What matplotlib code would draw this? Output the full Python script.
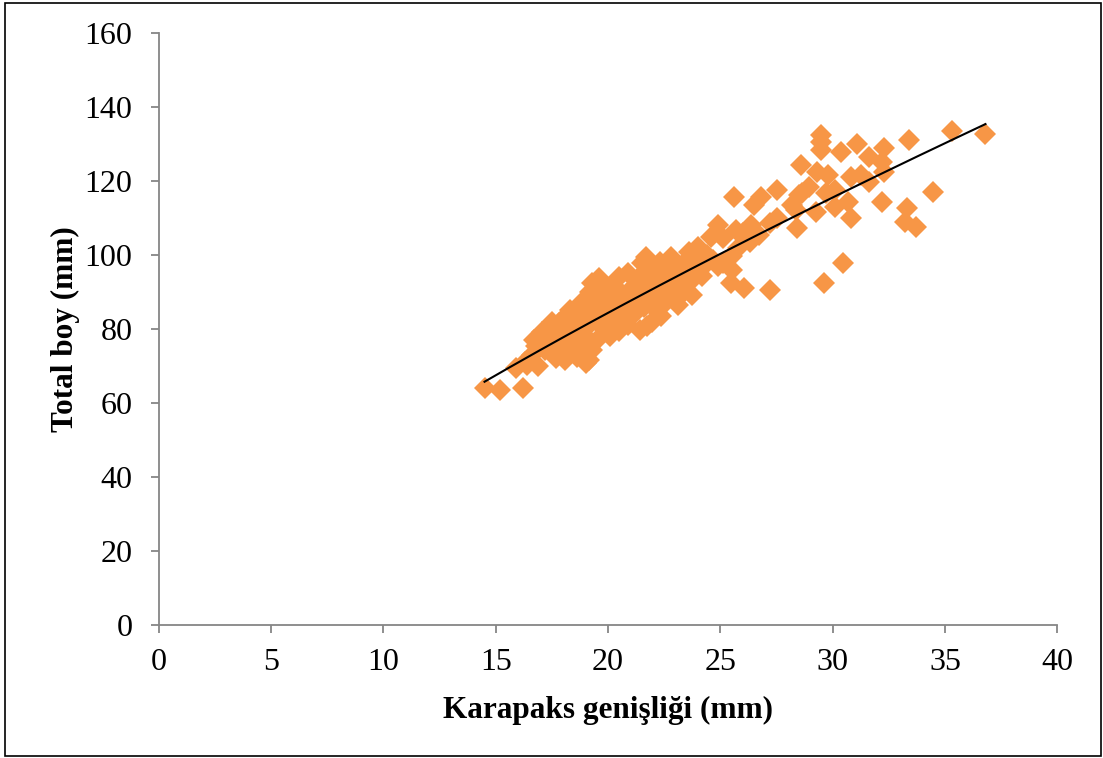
import numpy as np
import matplotlib
matplotlib.use('Agg')
import matplotlib.pyplot as plt
from matplotlib.patches import Rectangle

plt.rcParams['font.family'] = ['Liberation Serif', 'DejaVu Serif']

# karapaks genisligi (mm), okunan degerler
kg = [14.5, 15.2, 16.2, 15.9, 16.4, 16.3, 16.6, 16.8, 16.7, 16.9,
      17.05, 17.2, 17.4, 17.5, 17.7, 17.6, 17.8, 17.95, 18.1, 18.1,
      18.0, 18.3, 18.4, 18.35, 18.6, 18.7, 18.6, 18.8, 18.9, 18.7,
      19.0, 19.15, 19.0, 19.1, 19.2, 19.2, 19.3, 19.3, 19.4, 19.5,
      19.6, 19.6, 19.7, 19.8, 19.9, 20.0, 20.1, 20.2, 20.3, 20.4,
      20.5, 20.6, 20.6, 20.8, 20.9, 20.9, 21.0, 21.1, 21.2, 21.3,
      21.4, 21.4, 21.5, 21.6, 21.7, 21.75, 21.8, 21.9, 21.96, 22.0,
      22.1, 22.3, 22.35, 22.4, 22.5, 22.6, 22.8, 22.85, 22.9, 23.0,
      23.1, 23.2, 23.3, 23.5, 23.6, 23.6, 23.75, 23.8, 24.0, 24.05,
      24.2, 24.4, 24.6, 24.65, 24.9, 24.9, 25.1, 25.1, 25.45, 25.5,
      25.5, 25.6, 25.7, 25.8, 26.0, 26.2, 26.05, 26.35, 26.3, 26.5,
      26.7, 26.8, 27.2, 27.2, 27.5, 27.5, 28.2, 28.4, 28.36, 28.5,
      28.58, 28.65, 28.95, 29.25, 29.3, 29.47, 29.5, 29.47, 29.6, 29.7,
      29.8, 30.1, 30.1, 30.36, 30.44, 30.66, 30.8, 30.8, 31.1, 31.25,
      31.6, 31.6, 32.2, 32.2, 32.3, 32.3, 33.2, 33.3, 33.4, 33.7,
      34.45, 35.3, 36.8,
      18.2, 18.5, 19.3, 19.6, 20.0, 20.3, 20.7, 21.0, 21.3, 21.6,
      21.9, 22.2, 22.7, 23.0, 23.4, 20.5, 19.8, 17.3, 17.9, 22.0,
      23.3, 24.3]
# total boy (mm)
tb = [64.1, 63.7, 64.1, 69.5, 70.4, 71.3, 73.0, 75.4, 77.2, 70.0,
      79.3, 74.5, 80.5, 82.0, 72.3, 77.0, 81.7, 82.6, 71.8, 75.3,
      79.0, 85.3, 83.9, 77.5, 72.6, 74.5, 80.5, 87.1, 83.0, 85.3,
      71.0, 71.8, 78.0, 81.0, 84.5, 90.1, 92.5, 74.5, 88.0, 86.0,
      93.9, 77.7, 82.5, 90.5, 85.0, 88.5, 78.1, 92.0, 81.5, 86.5,
      94.2, 81.2, 89.5, 84.0, 95.2, 81.2, 91.0, 87.0, 84.5, 93.5,
      79.9, 89.0, 98.0, 86.0, 99.6, 80.8, 92.0, 95.0, 82.0, 88.5,
      85.5, 98.2, 83.5, 91.5, 94.5, 87.5, 99.6, 88.5, 96.0, 92.0,
      86.6, 94.5, 89.5, 97.9, 101.0, 92.5, 89.3, 95.5, 102.3, 98.5,
      94.5, 100.0, 105.0, 98.8, 108.2, 97.0, 104.7, 98.0, 92.5, 99.7,
      96.0, 115.8, 106.9, 102.0, 106.0, 105.0, 91.1, 108.2, 103.7, 113.6,
      105.6, 115.8, 108.7, 90.7, 117.6, 110.0, 113.6, 107.3, 112.3, 116.3,
      124.4, 116.8, 118.6, 111.8, 122.6, 132.5, 130.7, 128.4, 92.5, 116.8,
      121.7, 117.7, 113.2, 128.0, 98.0, 114.5, 121.3, 110.0, 130.0, 121.7,
      119.9, 126.6, 125.3, 114.5, 128.9, 122.6, 109.1, 112.7, 131.1, 107.6,
      117.2, 133.6, 132.8,
      80.0, 82.0, 83.0, 87.5, 84.0, 90.0, 87.5, 85.5, 90.5, 93.0,
      89.5, 92.5, 91.0, 89.0, 93.0, 79.5, 80.0, 76.5, 74.0, 96.5,
      97.5, 97.5]

kg = np.array(kg)
tb = np.array(tb)

# us egilim cizgisi (power trend)
b, lna = np.polyfit(np.log(kg), np.log(tb), 1)
xs = np.linspace(kg.min(), kg.max(), 200)
ys = np.exp(lna) * xs ** b

fig = plt.figure(figsize=(11.03, 7.58), dpi=100)
ax = fig.add_axes([0.144, 0.175, 0.8146, 0.781])

ax.plot(kg, tb, linestyle='none', marker='D', markersize=11.3,
        color='#F79646', markeredgewidth=0, zorder=2)
ax.plot(xs, ys, color='black', linewidth=1.5, zorder=3)

ax.set_xlim(0, 40)
ax.set_ylim(0, 160)
ax.set_xticks(range(0, 41, 5))
ax.set_yticks(range(0, 161, 20))

for s in ['top', 'right']:
    ax.spines[s].set_visible(False)
for s in ['left', 'bottom']:
    ax.spines[s].set_color('#868686')
    ax.spines[s].set_linewidth(1.3)
ax.tick_params(axis='both', direction='out', length=6, width=1.3,
               color='#868686', labelsize=23)
ax.tick_params(axis='y', pad=13)
ax.tick_params(axis='x', pad=10)

ax.set_xlabel('Karapaks genişliği (mm)', fontsize=22.5, fontweight='bold', labelpad=14)
ax.set_ylabel('Total boy (mm)', fontsize=22.5, fontweight='bold', labelpad=3)

fig.patches.append(Rectangle((5 / 1103, 2 / 758), 1096 / 1103, 753 / 758,
                             transform=fig.transFigure, fill=False,
                             edgecolor='black', linewidth=1.2))

fig.savefig('out.png', dpi=100)
